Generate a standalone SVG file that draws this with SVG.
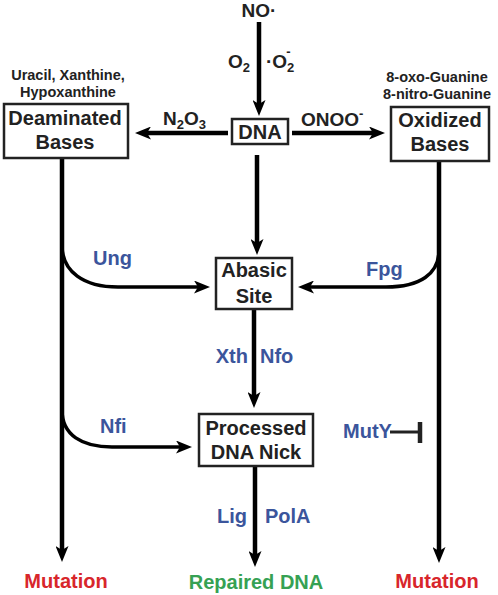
<svg xmlns="http://www.w3.org/2000/svg" width="498" height="595" viewBox="0 0 498 595">
<style>
text{font-family:"Liberation Sans",Arial,sans-serif;font-weight:bold;}
.box{fill:#fff;stroke:#222;stroke-width:2.5;}
.t{font-size:20px;fill:#222;text-anchor:middle;}
.s{font-size:14.5px;fill:#222;text-anchor:middle;}
.l{font-size:19px;fill:#222;}
.b{font-size:20px;fill:#3b559c;}
.red{font-size:20px;fill:#d8262b;text-anchor:middle;}
.grn{font-size:20px;fill:#36a153;text-anchor:middle;}
.a{fill:none;stroke:#000;stroke-width:4.5;marker-end:url(#ah);}
.c{fill:none;stroke:#000;stroke-width:3.5;marker-end:url(#ah);}
</style>
<defs>
<marker id="ah" markerUnits="userSpaceOnUse" viewBox="0 0 16 13" refX="6" refY="6.5" markerWidth="16" markerHeight="13" orient="auto">
<path d="M0,0 L16,6.5 L0,13 L4,6.5 z" fill="#000"/>
</marker>
</defs>
<g id="connectors">
<path class="a" d="M259,22 V106"/>
<path class="a" d="M228,133 H145"/>
<path class="a" d="M292,133 H375"/>
<path class="a" d="M257,155 V245"/>
<path class="a" d="M254,309 V398"/>
<path class="a" d="M255,466 V557"/>
<path class="a" d="M62,158 V552"/>
<path class="a" d="M439,161 V553"/>
<path class="c" d="M62,245 C62,272 84,287 118,287 L200,287"/>
<path class="c" d="M439,250 C439,274 420,287 386,287 L308,287"/>
<path class="c" d="M62,410 C62,435 82,447 112,447 L182,447"/>
<path d="M390,432 H420" stroke="#222" stroke-width="3" fill="none"/>
<path d="M420,422 V443" stroke="#222" stroke-width="4.5" fill="none"/>
</g>
<g id="no">
<text class="l" x="259" y="17" text-anchor="middle">NO·</text>
</g>
<g id="o2-labels">
<text class="l" x="228" y="68">O<tspan font-size="13" dy="4">2</tspan></text>
<text class="l" x="266" y="68">·O<tspan font-size="13" dy="4">2</tspan><tspan font-size="13" dx="-8" dy="-16">-</tspan></text>
</g>
<g id="n2o3">
<text class="l" x="163" y="125">N<tspan font-size="13" dy="4">2</tspan><tspan dy="-4">O</tspan><tspan font-size="13" dy="4">3</tspan></text>
</g>
<g id="onoo">
<text class="l" x="301" y="126">ONOO<tspan font-size="13" dy="-8">-</tspan></text>
</g>
<g id="dna">
<rect class="box" x="232" y="119" width="56" height="25"/>
<text class="t" x="260" y="139">DNA</text>
</g>
<g id="deaminated">
<text class="s" x="68" y="80">Uracil, Xanthine,</text>
<text class="s" x="68" y="97">Hypoxanthine</text>
<rect class="box" x="4" y="104" width="124" height="54"/>
<text class="t" x="65" y="125">Deaminated</text>
<text class="t" x="65" y="149">Bases</text>
</g>
<g id="oxidized">
<text class="s" x="437" y="82">8-oxo-Guanine</text>
<text class="s" x="437" y="99">8-nitro-Guanine</text>
<rect class="box" x="391" y="107" width="98" height="54"/>
<text class="t" x="440" y="127">Oxidized</text>
<text class="t" x="440" y="151">Bases</text>
</g>
<g id="abasic">
<rect class="box" x="216" y="258" width="76" height="51"/>
<text class="t" x="254" y="277">Abasic</text>
<text class="t" x="254" y="303">Site</text>
</g>
<g id="processed">
<rect class="box" x="199" y="414" width="114" height="52"/>
<text class="t" x="256" y="435">Processed</text>
<text class="t" x="256" y="459">DNA Nick</text>
</g>
<g id="enzymes">
<text class="b" x="93" y="265">Ung</text>
<text class="b" x="366" y="276">Fpg</text>
<text class="b" x="248" y="363" text-anchor="end">Xth</text>
<text class="b" x="260" y="363">Nfo</text>
<text class="b" x="100" y="433">Nfi</text>
<text class="b" x="343" y="438">MutY</text>
<text class="b" x="247" y="523" text-anchor="end">Lig</text>
<text class="b" x="265" y="523">PolA</text>
</g>
<g id="outcomes">
<text class="red" x="66" y="588">Mutation</text>
<text class="grn" x="256" y="589">Repaired DNA</text>
<text class="red" x="437" y="588">Mutation</text>
</g>
</svg>
